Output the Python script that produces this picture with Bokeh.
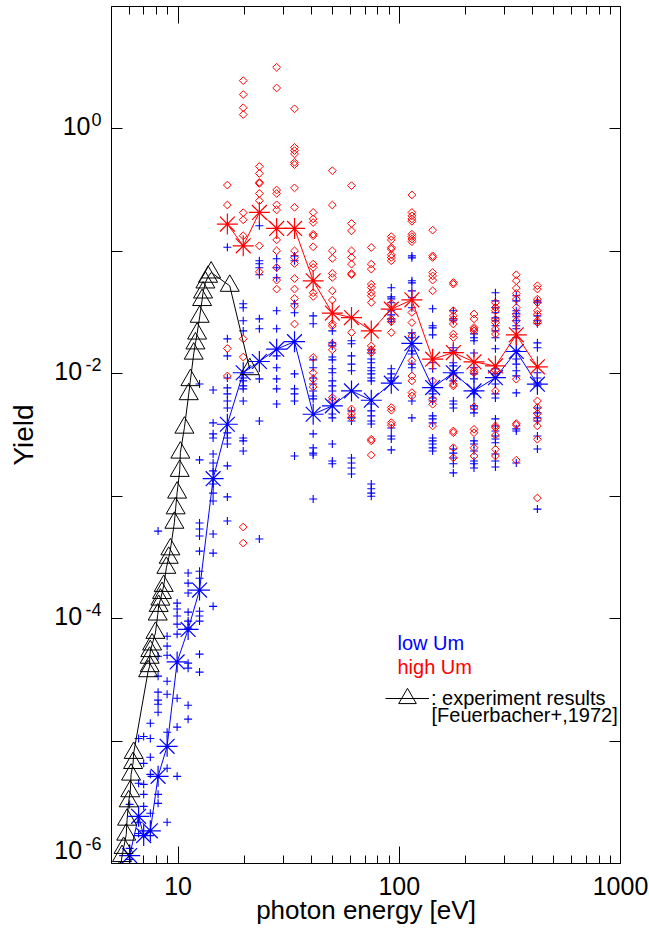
import math
from bokeh.plotting import figure
from bokeh.models import (LogAxis, FixedTicker, Label, Legend, LegendItem, Range1d, LogScale)
from bokeh.embed import file_html
from bokeh.resources import INLINE

FONT = "Liberation Sans"

# ---------------- data ----------------
# simulated yields, low Um (blue "+") : one list of yields per photon energy column
low_um_energy = [6.04, 6.63, 6.99, 7.49, 8.12, 8.92, 9.9, 11.1, 12.5, 14.4, 16.7, 19.7, 23.3,
                 27.9, 33.6, 40.8, 49.8, 60.8, 74.7, 92, 114, 141.5, 175.5, 217.6, 272, 338, 421]
low_um_yield = [
    [3.04e-6, 1.33e-6, 1.08e-6],
    [1.05e-5, 4.52e-6, 2.17e-6, 1.76e-6],
    [1.09e-5, 6.58e-6, 4.43e-6, 3.67e-6, 2.93e-6],
    [1.40e-5, 1.05e-5, 7.37e-6, 5.35e-6, 2.57e-6],
    [5.19e-4, 4.93e-5, 3.39e-5, 2.51e-5, 2.16e-5, 2.0e-5, 1.72e-5, 3.67e-6, 3.1e-6],
    [7.19e-5, 5.96e-5, 5.03e-5, 3.08e-5, 2.41e-5, 1.18e-5, 6.0e-6, 2.17e-6],
    [1.34e-4, 1.2e-4, 1.05e-4, 9.02e-5, 7.47e-5, 2.24e-5, 1.3e-5, 5.15e-6],
    [2.36e-4, 1.95e-4, 1.62e-4, 1.13e-4, 9.55e-5, 8.36e-5, 4.33e-5, 3.94e-5, 1.96e-5, 1.51e-5],
    [8.26e-3, 1.98e-3, 6.04e-4, 5.4e-4, 4.73e-4, 3.56e-4, 2.44e-4, 2.14e-4, 1.15e-4, 1.05e-4,
     9.55e-5, 5.13e-5, 3.66e-5],
    [7.38e-3, 3.97e-3, 3.23e-3, 2.99e-3, 2.21e-3, 1.87e-3, 1.61e-3, 1.26e-3, 1.06e-3, 9.14e-4,
     4.91e-4, 3.43e-4, 1.26e-4],
    [0.108, 1.93e-2, 1.4e-2, 9.25e-3, 7.67e-3, 6.85e-3, 6.0e-3, 5.26e-3, 3.29e-3, 2.99e-3,
     2.67e-3, 1.77e-3, 9.87e-4, 6.27e-4],
    [3.73e-2, 3.46e-2, 2.71e-2, 2.24e-2, 9.25e-3, 8.75e-3, 7.96e-3, 7.53e-3, 6.0e-3, 2.99e-3,
     2.83e-3, 2.34e-3],
    [0.162, 8.38e-2, 7.92e-2, 7.35e-2, 6.44e-2, 2.81e-2, 2.33e-2, 9.08e-3, 4.12e-3, 4.47e-4],
    [8.7e-2, 7.35e-2, 6.08e-2, 3.27e-2, 2.33e-2, 1.4e-2, 1.12e-2, 9.08e-3, 7.53e-3, 5.67e-3],
    [9.18e-2, 8.38e-2, 3.73e-2, 3.15e-2, 9.98e-3, 7.53e-3, 6.85e-3, 6.0e-3, 2.13e-3],
    [2.97e-2, 2.56e-2, 1.3e-2, 1.12e-2, 9.25e-3, 8.26e-3, 7.24e-3, 6.59e-3, 6.24e-3, 3.23e-3,
     2.48e-3, 2.25e-3, 2.17e-3, 9.48e-4],
    [2.24e-2, 1.79e-2, 1.69e-2, 1.37e-2, 1.3e-2, 1.1e-2, 1.02e-2, 8.75e-3, 7.96e-3, 7.24e-3,
     4.7e-3, 4.36e-3, 2.67e-3, 1.94e-3, 1.84e-3],
    [1.86e-2, 1.76e-2, 1.4e-2, 1.2e-2, 1.06e-2, 4.98e-3, 4.36e-3, 4.12e-3, 2.05e-3, 1.87e-3,
     1.7e-3, 1.52e-3],
    [1.57e-2, 1.48e-2, 1.32e-2, 1.23e-2, 1.12e-2, 1.06e-2, 9.98e-3, 9.25e-3, 8.75e-3, 5.67e-3,
     4.98e-3, 4.53e-3, 4.12e-3, 3.89e-3, 1.26e-3, 1.15e-3, 1.06e-3, 1.0e-3],
    [5.04e-2, 4.25e-2, 4.09e-2, 3.8e-2, 3.27e-2, 3.03e-2, 2.81e-2, 2.66e-2, 1.1e-2, 9.98e-3,
     9.25e-3, 8.75e-3, 3.61e-3, 3.1e-3, 2.93e-3, 2.39e-3],
    [9.18e-2, 8.85e-2, 5.75e-2, 5.53e-2, 4.76e-2, 4.18e-2, 3.46e-2, 2.16e-2, 1.97e-2, 1.54e-2,
     1.45e-2, 1.2e-2, 1.12e-2, 6.0e-3, 4.36e-3],
    [3.4e-2, 2.47e-2, 2.37e-2, 2.08e-2, 1.23e-2, 1.1e-2, 7.24e-3, 6.85e-3, 6.35e-3, 6.0e-3,
     4.53e-3, 4.28e-3, 3.97e-3, 2.99e-3, 2.83e-3, 2.67e-3, 2.48e-3, 2.34e-3],
    [3.27e-2, 2.81e-2, 2.71e-2, 1.63e-2, 1.54e-2, 1.23e-2, 1.16e-2, 1.06e-2, 9.98e-3, 8.75e-3,
     6.0e-3, 5.67e-3, 5.26e-3, 2.43e-3, 2.25e-3, 2.05e-3, 1.84e-3, 1.55e-3],
    [2.12e-2, 1.97e-2, 1.86e-2, 1.48e-2, 1.12e-2, 9.98e-3, 9.08e-3, 7.24e-3, 6.85e-3, 5.47e-3,
     5.16e-3, 4.79e-3, 2.83e-3, 2.67e-3, 2.34e-3, 1.94e-3, 1.84e-3, 1.7e-3],
    [4.59e-2, 3.94e-2, 3.46e-2, 3.15e-2, 2.86e-2, 2.71e-2, 2.47e-2, 2.24e-2, 1.97e-2, 1.6e-2,
     1.1e-2, 9.98e-3, 8.26e-3, 6.85e-3, 6.35e-3, 4.28e-3, 3.75e-3, 3.41e-3, 3.1e-3, 2.93e-3,
     2.73e-3, 2.21e-3, 1.94e-3, 1.73e-3],
    [4.34e-2, 3.94e-2, 3.27e-2, 3.09e-2, 2.92e-2, 2.71e-2, 2.47e-2, 2.33e-2, 1.97e-2, 1.54e-2,
     1.32e-2, 1.2e-2, 1.06e-2, 9.62e-3, 6.98e-3, 3.55e-3, 3.41e-3, 1.87e-3],
    [3.94e-2, 3.8e-2, 2.97e-2, 2.71e-2, 2.56e-2, 1.79e-2, 1.63e-2, 1.02e-2, 9.25e-3, 8.43e-3,
     7.96e-3, 5.26e-3, 4.79e-3, 4.36e-3, 4.12e-3, 3.1e-3, 2.43e-3, 7.85e-4],
]
low_um_mean = [1.16e-6, 2.43e-6, 1.69e-6, 1.85e-6, 5.15e-6, 9.06e-6, 4.43e-5, 8.16e-5, 1.71e-4,
               1.39e-3, 3.87e-3, 1.02e-2, 1.26e-2, 1.59e-2, 1.83e-2, 4.67e-3, 5.47e-3, 7.24e-3,
               6.08e-3, 8.38e-3, 1.77e-2, 7.71e-3, 1.02e-2, 7.25e-3, 9.3e-3, 1.52e-2, 8.22e-3]

# simulated yields, high Um (red diamonds)
high_um_energy = [16.7, 19.7, 23.3, 27.9, 33.6, 40.8, 49.8, 60.8, 74.7, 92, 114, 141.5,
                  175.5, 217.6, 272, 338, 421]
high_um_yield = [
    [0.348, 0.239, 0.0161, 0.0096],
    [2.48, 1.91, 1.49, 1.31, 0.207, 0.181, 0.134, 0.0193, 0.0137, 5.6e-4, 4.14e-4],
    [0.494, 0.433, 0.366, 0.359, 0.297, 0.259, 0.111, 0.068],
    [3.19, 2.16, 0.317, 0.297, 0.240, 0.218, 0.124, 0.101, 0.0738, 0.0582, 0.0492],
    [1.46, 0.707, 0.665, 0.625, 0.534, 0.511, 0.330, 0.229, 0.101, 0.0892, 0.0796, 0.060,
     0.0492, 0.0412, 0.0359, 0.0255],
    [0.208, 0.184, 0.172, 0.138, 0.134, 0.109, 0.0787, 0.0738, 0.0459, 0.0428, 0.0136, 0.0102,
     0.00903, 0.00781],
    [0.456, 0.239, 0.101, 0.0875, 0.066, 0.0612, 0.0476, 0.040, 0.0257, 0.0246, 0.0175, 0.0157,
     0.00639, 0.00608],
    [0.344, 0.169, 0.147, 0.101, 0.0892, 0.0787, 0.0659, 0.0644, 0.0217, 0.00516, 0.0047,
     0.00438],
    [0.1076, 0.0787, 0.0716, 0.054, 0.0507, 0.0461, 0.0434, 0.0382, 0.0169, 0.0157, 0.0149,
     0.00292, 0.00283, 0.00217],
    [0.132, 0.124, 0.1076, 0.1044, 0.0938, 0.0892, 0.0838, 0.0375, 0.0279, 0.0267, 0.0217,
     0.0053, 0.00504, 0.00399, 0.00382],
    [0.289, 0.208, 0.195, 0.184, 0.176, 0.138, 0.132, 0.126, 0.120, 0.0317, 0.0262, 0.0204,
     0.0128, 0.0096, 0.00875, 0.00702, 0.00659],
    [0.149, 0.092, 0.0892, 0.0672, 0.063, 0.0582, 0.0476, 0.00875, 0.0062, 0.00564, 0.00375],
    [0.0557, 0.054, 0.0327, 0.0297, 0.0279, 0.0255, 0.0211, 0.0198, 0.0093, 0.00822, 0.00796,
     0.00341, 0.0033, 0.00249, 0.00206],
    [0.0308, 0.0281, 0.0239, 0.0232, 0.0224, 0.0106, 0.0102, 0.00536, 0.00352, 0.0033,
     0.00249, 0.00213],
    [0.038, 0.0348, 0.0327, 0.0279, 0.0262, 0.0232, 0.0211, 0.0106, 0.0098, 0.00725, 0.00375,
     0.00363, 0.00316, 0.00242, 0.00213],
    [0.0644, 0.0575, 0.0501, 0.0453, 0.0407, 0.0348, 0.0307, 0.0271, 0.00903, 0.00392,
     0.00382, 0.00197],
    [0.0524, 0.0492, 0.0407, 0.0382, 0.0327, 0.0307, 0.0271, 0.0262, 0.006, 0.0053, 0.00473,
     0.00425, 0.00375, 0.00292, 0.000967],
]
high_um_mean = [0.167, 0.111, 0.208, 0.154, 0.154, 0.0575, 0.0313, 0.0288, 0.0224, 0.0337,
                0.0402, 0.01316, 0.0149, 0.0125, 0.0116, 0.0208, 0.0114]

# experiment results [Feuerbacher+, 1972]
exp_energy = [5.45, 5.58, 5.67, 5.83, 5.88, 5.98, 6.08, 6.13, 6.26, 6.30, 7.32, 7.44, 7.44,
              7.49, 7.63, 7.90, 8.09, 8.17, 8.32, 8.46, 8.61, 8.85, 9.07, 9.23, 9.62, 9.75,
              9.90, 10.17, 10.24, 10.68, 11.17, 11.37, 11.77, 11.98, 12.19, 12.52, 12.84,
              12.97, 13.29, 13.67, 14.11, 17.12, 21.09]
exp_yield = [8.5e-7, 1.15e-6, 1.34e-6, 1.72e-6, 2.28e-6, 3.22e-6, 3.89e-6, 5.32e-6, 6.62e-6,
             8.0e-6, 3.72e-5, 4.09e-5, 4.79e-5, 5.43e-5, 6.15e-5, 7.65e-5, 1.08e-4, 1.27e-4,
             1.43e-4, 1.62e-4, 1.85e-4, 2.6e-4, 3.14e-4, 3.68e-4, 6.07e-4, 7.96e-4, 1.07e-3,
             1.61e-3, 2.27e-3, 3.63e-3, 6.81e-3, 8.87e-3, 1.46e-2, 1.77e-2, 2.13e-2, 2.92e-2,
             4.0e-2, 4.61e-2, 5.57e-2, 6.2e-2, 6.72e-2, 5.23e-2, 1.09e-2]

# axes
x_limits = (5, 1000)
y_limits = (1e-6, 10)
x_major_ticks = [10, 100, 1000]
x_minor_ticks = [6, 7, 8, 9, 20, 30, 40, 50, 60, 70, 80, 90,
                 200, 300, 400, 500, 600, 700, 800, 900]
x_tick_labels = {10: "10", 100: "100", 1000: "1000"}
y_major_ticks = [1e-6, 1e-5, 1e-4, 1e-3, 1e-2, 1e-1, 1e0, 1e1]
y_labelled_ticks = [1e0, 1e-2, 1e-4, 1e-6]
y_label_base = {1e0: "10", 1e-2: "10\u2004", 1e-4: "10\u2004", 1e-6: "10\u2004"}
y_label_exponent = {1e0: "0", 1e-2: "-2", 1e-4: "-4", 1e-6: "-6"}

# ---------------- figure ----------------
W, H = 649, 932
BL, BR, BT, BB = 111, 29, 6, 69
p = figure(width=W, height=H, x_axis_type="log", y_axis_type="log",
           x_range=Range1d(*x_limits), y_range=Range1d(*y_limits),
           output_backend="svg", toolbar_location=None,
           min_border_left=BL, min_border_right=BR, min_border_top=BT, min_border_bottom=BB)
p.grid.visible = False
p.outline_line_color = None
p.background_fill_color = "white"
p.border_fill_color = "white"

# pixels per decade on the y axis, used to lift the "10" and exponent texts a little
decades = math.log10(y_limits[1] / y_limits[0])
ppd = (H - BT - BB) / decades


def lifted_range(px):
    k = 10 ** (px / ppd)
    return Range1d(y_limits[0] / k, y_limits[1] / k)


p.extra_y_ranges = {"exp": lifted_range(9.5), "base": lifted_range(3)}
p.extra_y_scales = {"exp": LogScale(), "base": LogScale()}

# the lowest label (10^-6) sits a little higher so that it stays clear of the corner
label_pos = {t: (t * 10 ** (11 / ppd) if t == y_limits[0] else t) for t in y_labelled_ticks}

xt = FixedTicker(ticks=x_major_ticks, minor_ticks=x_minor_ticks)
yt = FixedTicker(ticks=y_major_ticks, minor_ticks=[])
ylt = FixedTicker(ticks=[label_pos[t] for t in y_labelled_ticks], minor_ticks=[])


def hide_labels(ax, ticks):
    ax.major_label_overrides = {t: "" for t in ticks}
    ax.major_label_text_font_size = "1px"
    ax.major_label_standoff = 0


def style_x(ax, labels):
    ax.ticker = xt
    ax.axis_line_color = "black"
    ax.axis_line_width = 1
    ax.major_tick_in = 17
    ax.major_tick_out = 0
    ax.minor_tick_in = 8
    ax.minor_tick_out = 0
    ax.major_tick_line_color = "black"
    ax.minor_tick_line_color = "black"
    if labels:
        ax.major_label_overrides = x_tick_labels
        ax.major_label_text_font = FONT
        ax.major_label_text_font_size = "25px"
        ax.major_label_text_color = "black"
        ax.major_label_standoff = 13
        ax.axis_label = "photon energy [eV]"
        ax.axis_label_text_font = FONT
        ax.axis_label_text_font_size = "26px"
        ax.axis_label_text_font_style = "normal"
        ax.axis_label_text_color = "black"
        ax.axis_label_standoff = -3
    else:
        hide_labels(ax, x_major_ticks)


def style_y_ticks(ax):
    ax.ticker = yt
    ax.axis_line_color = "black"
    ax.axis_line_width = 1
    ax.major_tick_in = 11
    ax.major_tick_out = 0
    ax.minor_tick_in = 0
    ax.minor_tick_out = 0
    ax.major_tick_line_color = "black"
    hide_labels(ax, y_major_ticks)


def label_only_axis(range_name, texts, size, standoff):
    ax = LogAxis(y_range_name=range_name, ticker=ylt)
    ax.axis_line_color = None
    ax.major_tick_line_color = None
    ax.minor_tick_line_color = None
    ax.major_tick_in = 0
    ax.major_tick_out = 0
    ax.minor_tick_in = 0
    ax.minor_tick_out = 0
    ax.major_label_overrides = {label_pos[t]: s for t, s in texts.items()}
    ax.major_label_text_font = FONT
    ax.major_label_text_font_size = size
    ax.major_label_text_color = "black"
    ax.major_label_standoff = standoff
    return ax


style_x(p.xaxis[0], True)
style_y_ticks(p.yaxis[0])
top = LogAxis()
style_x(top, False)
p.add_layout(top, "above")
right = LogAxis()
style_y_ticks(right)
p.add_layout(right, "right")

# exponent texts right next to the axis, then the "10" texts further left
exp_axis = label_only_axis("exp", y_label_exponent, "18px", 10)
p.add_layout(exp_axis, "left")
base_axis = label_only_axis("base", y_label_base, "25px", -8)
base_axis.axis_label = "Yield"
base_axis.axis_label_text_font = FONT
base_axis.axis_label_text_font_size = "28px"
base_axis.axis_label_text_font_style = "normal"
base_axis.axis_label_text_color = "black"
base_axis.axis_label_standoff = 12
p.add_layout(base_axis, "left")

# ---------------- data marks ----------------
low_x = [e for e, ys in zip(low_um_energy, low_um_yield) for _ in ys]
low_y = [y for ys in low_um_yield for y in ys]
high_x = [e for e, ys in zip(high_um_energy, high_um_yield) for _ in ys]
high_y = [y for ys in high_um_yield for y in ys]

p.scatter(low_x, low_y, marker="cross", size=8, line_color="#0000ff", line_width=1.1)
p.scatter(high_x, high_y, marker="square", angle=math.pi / 4, size=5.5,
          fill_color=None, line_color="#ff0000", line_width=1)

p.line(low_um_energy, low_um_mean, line_color="#0000ff", line_width=1)
p.scatter(low_um_energy, low_um_mean, marker="asterisk", size=21,
          line_color="#0000ff", line_width=1.2)
p.line(high_um_energy, high_um_mean, line_color="#ff0000", line_width=1)
p.scatter(high_um_energy, high_um_mean, marker="asterisk", size=21,
          line_color="#ff0000", line_width=1.2)

exp_line = p.line(exp_energy, exp_yield, line_color="black", line_width=1)
exp_tri = p.scatter(exp_energy, exp_yield, marker="triangle", size=19,
                    fill_color=None, line_color="black", line_width=1)

# ---------------- legend texts ----------------
x0, y0 = x_limits[0], y_limits[0]
p.add_layout(Label(x=x0, y=y0, x_offset=286, y_offset=209.7, text="low Um",
                   text_font=FONT, text_font_size="20px", text_color="#0000ff"))
p.add_layout(Label(x=x0, y=y0, x_offset=286, y_offset=185.7, text="high Um",
                   text_font=FONT, text_font_size="20px", text_color="#ff0000"))
p.add_layout(Label(x=x0, y=y0, x_offset=320, y_offset=137.7, text="[Feuerbacher+,1972]",
                   text_font=FONT, text_font_size="20px", text_color="black"))

legend = Legend(items=[LegendItem(label=": experiment results", renderers=[exp_line, exp_tri])],
                location=(274, 140.7), glyph_width=44, glyph_height=48, label_standoff=2,
                padding=0, margin=0, spacing=0, border_line_color=None,
                background_fill_alpha=0, label_text_font=FONT, label_text_font_size="20px",
                label_text_color="black")
p.add_layout(legend)

open("out.html", "w").write(file_html(p, INLINE))
